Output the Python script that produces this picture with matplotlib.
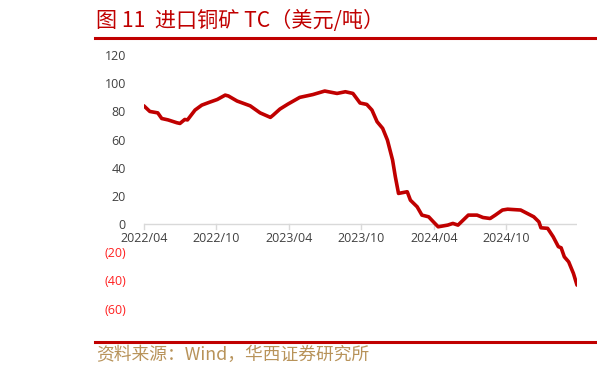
import numpy as np
import pandas as pd
import matplotlib
matplotlib.use("Agg")
import matplotlib.pyplot as plt
import matplotlib.dates as mdates
from matplotlib.lines import Line2D

plt.rcParams['font.family'] = ['Noto Sans CJK SC', 'DejaVu Sans']

# data (USD/t)
dates = ["2022-04-01", "2022-04-16", "2022-05-06", "2022-05-16", "2022-06-01", "2022-06-23",
         "2022-07-01", "2022-07-13", "2022-07-20", "2022-08-08", "2022-08-25", "2022-09-13",
         "2022-10-03", "2022-10-23", "2022-10-31", "2022-11-22", "2022-12-25", "2023-01-19",
         "2023-02-14", "2023-02-21", "2023-03-10", "2023-03-30", "2023-04-29", "2023-06-01",
         "2023-07-01", "2023-08-01", "2023-08-22", "2023-09-10", "2023-09-28", "2023-10-15",
         "2023-10-28", "2023-11-10", "2023-11-24", "2023-12-06", "2023-12-19", "2023-12-26",
         "2024-01-03", "2024-01-25", "2024-02-02", "2024-02-19", "2024-03-02", "2024-03-19",
         "2024-03-31", "2024-04-12", "2024-05-06", "2024-05-19", "2024-06-01", "2024-06-27",
         "2024-07-19", "2024-08-03", "2024-08-21", "2024-09-03", "2024-09-21", "2024-10-04",
         "2024-11-06", "2024-12-09", "2024-12-22", "2024-12-27", "2025-01-13", "2025-01-27",
         "2025-02-09", "2025-02-16", "2025-02-24", "2025-03-07", "2025-03-19", "2025-03-28"]
tc = [84, 80, 79, 75, 74, 72,
      71.5, 74.3, 74, 81, 84.5, 86.5,
      88.5, 91.6, 91, 87.4, 84, 79,
      75.8, 77.4, 81.7, 85.2, 90, 92,
      94.5, 92.8, 94, 92.8, 86, 85,
      81, 72.7, 68, 59.7, 45.5, 33.6,
      21.8, 23, 17, 12.3, 6.4, 5.2,
      1.6, -1.9, -0.7, 0.5, -0.7, 6.4,
      6.4, 4.7, 4, 6.4, 10, 10.6,
      10, 5.2, 1.6, -2.6, -3, -9,
      -16, -16.8, -23.2, -26.8, -35, -43.3]
xticks = ["2022-04-01", "2022-10-01", "2023-04-01", "2023-10-01", "2024-04-01", "2024-10-01"]
yticks = [-60, -40, -20, 0, 20, 40, 60, 80, 100, 120]

x = pd.to_datetime(dates)
tick_font = ['Open Sans', 'DejaVu Sans']

fig = plt.figure(figsize=(5.97, 3.75), dpi=100)
ax = fig.add_axes([0.241, 0.177, 0.7255, 0.676])

ax.plot(x, tc, color='#C00000', lw=2.6, solid_joinstyle='round', solid_capstyle='round')
ax.axhline(0, color='#d9d9d9', lw=1, zorder=0)

ax.set_xlim(x[0], x[-1])
ax.set_ylim(-60, 120)
for s in ax.spines.values():
    s.set_visible(False)

ax.set_yticks(yticks)
ax.set_yticklabels([f"({-v})" if v < 0 else str(v) for v in yticks])
for lab, v in zip(ax.get_yticklabels(), yticks):
    lab.set_color('#FF2020' if v < 0 else '#404040')
    lab.set_family(tick_font)
ax.tick_params(axis='y', length=0, pad=13, labelsize=9)

# x labels sit just under the zero line, with short tick marks
ax.set_xticks([])
for t in pd.to_datetime(xticks):
    ax.plot([t, t], [0, -3.5], color='#d9d9d9', lw=1, clip_on=False, zorder=0)
    ax.text(t, -5.5, t.strftime('%Y/%m'), ha='center', va='top', fontsize=9,
            color='#404040', family=tick_font)

# header / footer
fig.text(0.161, 0.945, "图 11  进口铜矿 TC（美元/吨）", fontsize=15.2, color='#C00000',
         ha='left', va='center')
fig.add_artist(Line2D([0.159, 1.0], [0.899, 0.899], color='#C00000', lw=2.2))
fig.add_artist(Line2D([0.159, 1.0], [0.089, 0.089], color='#C00000', lw=2.2))
fig.text(0.161, 0.053, "资料来源：Wind，华西证券研究所", fontsize=12.8, color='#B8935A',
         ha='left', va='center')

fig.savefig("out.png", dpi=100)
